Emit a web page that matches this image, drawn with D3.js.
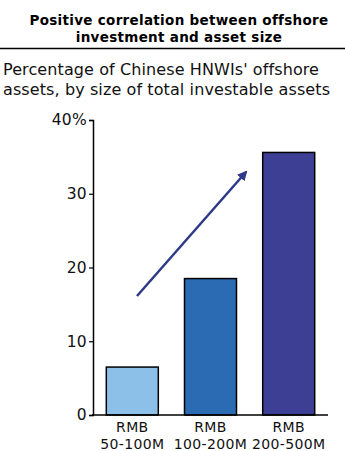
<!DOCTYPE html>
<html>
<head>
<meta charset="utf-8">
<script src="https://cdn.jsdelivr.net/npm/d3@7"></script>
<style>
  html, body { margin: 0; padding: 0; background: #fff; }
  svg { display: block; }
</style>
</head>
<body>
<svg id="chart" width="345" height="451"></svg>
<script>
// Asset-size brackets (two-line labels) and share of offshore assets (%)
const categories = ["RMB 50-100M", "RMB 100-200M", "RMB 200-500M"];
const labelLines = [["RMB", "50-100M"], ["RMB", "100-200M"], ["RMB", "200-500M"]];
const values = [6.5, 18.5, 35.6];
const barColors = ["#8cc0e8", "#2a6bb3", "#3c3f93"];
const yTicks = [0, 10, 20, 30, 40];
const titleLines = ["Positive correlation between offshore", "investment and asset size"];
const subtitleLines = ["Percentage of Chinese HNWIs' offshore", "assets, by size of total investable assets"];

const svg = d3.select("#chart");
const font = "DejaVu Sans, Verdana, sans-serif";

// Title
svg.append("g").selectAll("text").data(titleLines).join("text")
  .attr("x", 179).attr("y", (d, i) => 25 + i * 17)
  .attr("text-anchor", "middle")
  .attr("font-family", font).attr("font-weight", "bold").attr("font-size", 13.5)
  .attr("letter-spacing", 0.3)
  .attr("fill", "#000").text(d => d);

svg.append("line").attr("x1", 0).attr("x2", 345).attr("y1", 48.5).attr("y2", 48.5)
  .attr("stroke", "#000").attr("stroke-width", 1.5);

// Subtitle
svg.append("g").selectAll("text").data(subtitleLines).join("text")
  .attr("x", 3).attr("y", (d, i) => 75 + i * 20)
  .attr("font-family", font).attr("font-size", 16)
  .attr("letter-spacing", 0.1)
  .attr("fill", "#111").text(d => d);

// Scales
const x = d3.scaleBand().domain(categories).range([93, 328]).paddingInner(0.335).paddingOuter(0.17);
const y = d3.scaleLinear().domain([0, 40]).range([415, 120]);

// Bars
svg.append("g").selectAll("rect").data(values).join("rect")
  .attr("x", (d, i) => x(categories[i]))
  .attr("width", x.bandwidth())
  .attr("y", d => y(d))
  .attr("height", d => y(0) - y(d))
  .attr("fill", (d, i) => barColors[i])
  .attr("stroke", "#000").attr("stroke-width", 1.5);

// Y axis
const yAxis = svg.append("g").attr("transform", "translate(93,0)")
  .call(d3.axisLeft(y).tickValues(yTicks).tickSize(4).tickPadding(2)
    .tickFormat(d => d === 40 ? "40%" : d));
yAxis.select(".domain").attr("stroke", "#000").attr("stroke-width", 1.5);
yAxis.selectAll(".tick line").attr("stroke", "#000").attr("stroke-width", 1.2);
yAxis.selectAll(".tick text").attr("font-family", font).attr("font-size", 15.5)
  .attr("letter-spacing", 0.3).attr("fill", "#111");

// X axis baseline
svg.append("line").attr("x1", 92).attr("x2", 328).attr("y1", y(0)).attr("y2", y(0))
  .attr("stroke", "#000").attr("stroke-width", 1.5);

// X labels
const xl = svg.append("g").selectAll("text").data(categories).join("text")
  .attr("text-anchor", "middle")
  .attr("font-family", font).attr("font-size", 14).attr("letter-spacing", 0.35)
  .attr("fill", "#111");
xl.each(function(d, i) {
  const cx = x(d) + x.bandwidth() / 2;
  d3.select(this).selectAll("tspan").data(labelLines[i]).join("tspan")
    .attr("x", cx).attr("y", (t, j) => 432 + j * 17).text(t => t);
});

// Trend arrow
const defs = svg.append("defs");
defs.append("marker").attr("id", "arrowhead")
  .attr("viewBox", "0 0 10 10").attr("refX", 8).attr("refY", 5)
  .attr("markerWidth", 4).attr("markerHeight", 4).attr("orient", "auto")
  .append("path").attr("d", "M0,0 L10,5 L0,10 Z").attr("fill", "#2e3a88");
svg.append("line")
  .attr("x1", 137).attr("y1", 296).attr("x2", 246).attr("y2", 172)
  .attr("stroke", "#2e3a88").attr("stroke-width", 2.5)
  .attr("marker-end", "url(#arrowhead)");
</script>
</body>
</html>
